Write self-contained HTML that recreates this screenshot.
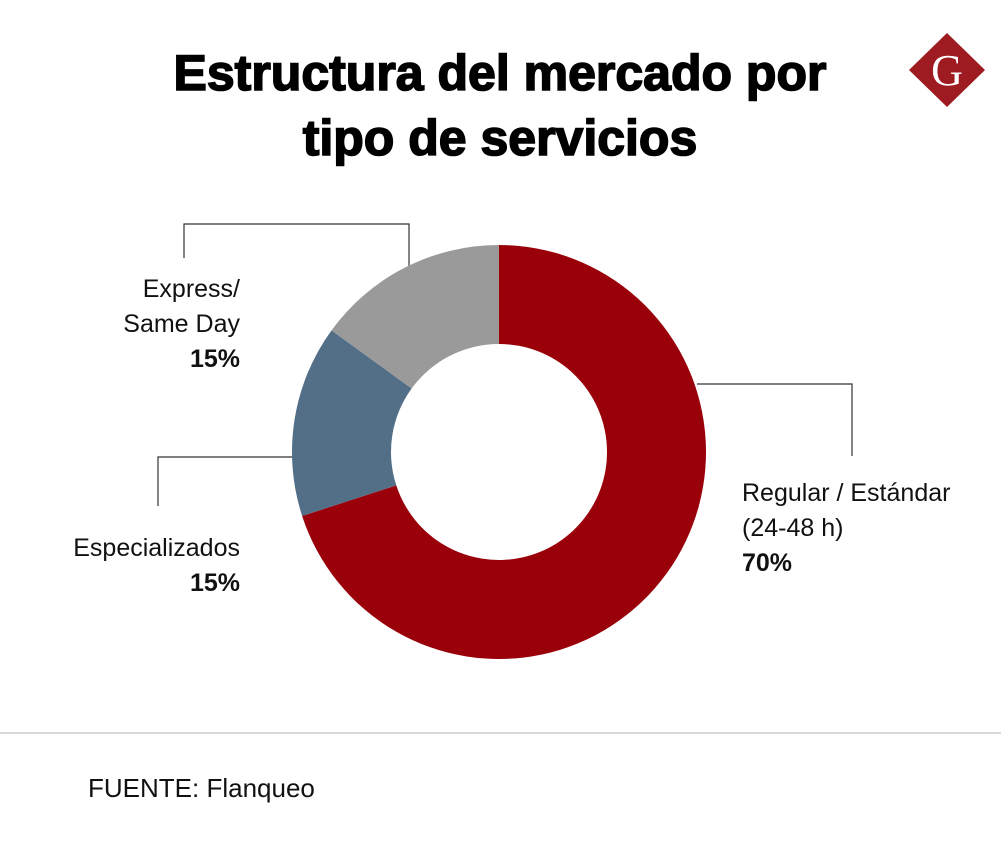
<!DOCTYPE html>
<html><head><meta charset="utf-8">
<style>
body{margin:0;background:#fff;}
svg{display:block;font-family:"Liberation Sans",sans-serif;}
</style></head>
<body>
<svg width="1001" height="844" viewBox="0 0 1001 844">
<rect width="1001" height="844" fill="#fff"/>
<text x="500" y="90" text-anchor="middle" font-size="50" font-weight="bold" fill="#000" stroke="#000" stroke-width="1.6">Estructura del mercado por</text>
<text x="500" y="155" text-anchor="middle" font-size="50" font-weight="bold" fill="#000" stroke="#000" stroke-width="1.6">tipo de servicios</text>
<g>
<polygon points="947,33 985,70 947,107 909,70" fill="#9e1b21"/>
<text x="947" y="85" text-anchor="middle" font-size="44" font-family="Liberation Serif,serif" fill="#fff">G</text>
</g>
<g stroke="#333" stroke-width="1.2" fill="none">
<polyline points="409,270 409,224 184,224 184,258"/>
<polyline points="300,457 158,457 158,506"/>
<polyline points="697,384 852,384 852,456"/>
</g>
<g id="slices"></g>
<g font-size="25" fill="#111">
<text x="240" y="297" text-anchor="end">Express/</text>
<text x="240" y="332" text-anchor="end">Same Day</text>
<text x="240" y="367" text-anchor="end" font-weight="bold">15%</text>
<text x="240" y="556" text-anchor="end">Especializados</text>
<text x="240" y="591" text-anchor="end" font-weight="bold">15%</text>
<text x="742" y="501">Regular / Estándar</text>
<text x="742" y="536">(24-48 h)</text>
<text x="742" y="571" font-weight="bold">70%</text>
</g>
<line x1="0" y1="733" x2="1001" y2="733" stroke="#ccc" stroke-width="1.5"/>
<text x="88" y="797" font-size="26" fill="#111">FUENTE: Flanqueo</text>
</svg>
<script>
const categories=["Regular / Estándar","Especializados","Express/Same Day"];
const values=[70,15,15];
const colors=["#990009","#536f87","#9a9a9a"];
const cx=499,cy=452,R=207,r=108;
const g=document.getElementById('slices');
const total=values.reduce((a,b)=>a+b,0);
let a0=0;
function pt(rad,a){return [cx+rad*Math.sin(a),cy-rad*Math.cos(a)];}
values.forEach((v,i)=>{
 const a1=a0+v/total*2*Math.PI;
 const large=(a1-a0)>Math.PI?1:0;
 const p1=pt(R,a0),p2=pt(R,a1),p3=pt(r,a1),p4=pt(r,a0);
 const p=document.createElementNS('http://www.w3.org/2000/svg','path');
 p.setAttribute('d',`M${p1[0]},${p1[1]}A${R},${R} 0 ${large} 1 ${p2[0]},${p2[1]}L${p3[0]},${p3[1]}A${r},${r} 0 ${large} 0 ${p4[0]},${p4[1]}Z`);
 p.setAttribute('fill',colors[i]);
 
 
 g.appendChild(p);
 a0=a1;
});
</script>
</body></html>
